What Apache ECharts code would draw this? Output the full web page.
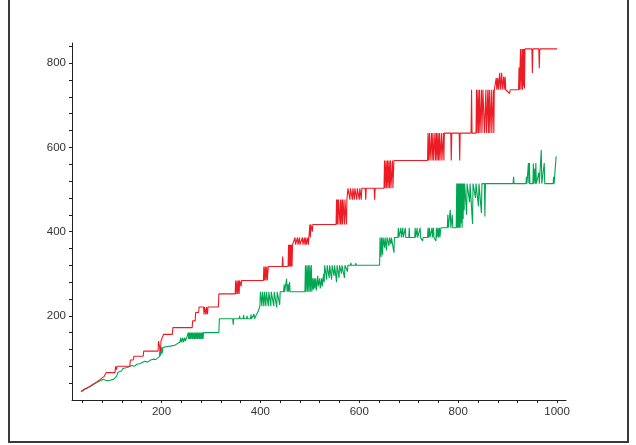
<!DOCTYPE html>
<html>
<head>
<meta charset="utf-8">
<script src="https://cdn.jsdelivr.net/npm/echarts@6/dist/echarts.min.js"></script>
<style>html,body{margin:0;padding:0;background:#fff;}#c{width:636px;height:445px;}</style>
</head>
<body>
<div id="c"></div>
<script>
// x tick marks / labels
const xTicks = [40,80,120,160,200,240,280,320,360,400,440,480,520,560,600,640,680,720,760,800,840,880,920,960,1000];
const xLabels = [200,400,600,800,1000];
const yTicks = [40,80,120,160,200,240,280,320,360,400,440,480,520,560,600,640,680,720,760,800,840];
const yLabels = [200,400,600,800];

// red series [x, y]
const redSeries = [
[37,20],[41,23],[45,26],[49,28],[53,31],[57,34],[61,37],[65,40],[69,43],[73,46],[76,49],[80,52],[84,56],[87,58],[88,65],[106,65],[107,80],[109,72],[110,80],[136,80],[137,95],[143,95],[144,104],[163,104],[164,116],[193,116],[194,140],[197,140],[198,116],[199,140],[203,140],[204,156],[222,156],[223,172],[262,172],[263,188],[268,188],[269,208],[275,208],[276,221],[285,221],[286,203],[287,221],[289,221],[290,203],[291,221],[292,221],[293,204],[294,221],[315,221],[316,252],[349,252],[350,284],[351,252],[353,284],[354,252],[356,284],[357,252],[358,284],[360,284],[361,270],[362,284],[406,284],[407,317],[408,284],[410,317],[411,284],[413,317],[414,284],[416,317],[444,317],[445,341],[446,317],[456,317],[457,369],[458,317],[459,369],[460,317],[461,369],[462,317],[463,369],[464,317],[465,369],[469,369],[470,386],[471,369],[474,369],[475,386],[476,369],[479,386],[480,369],[484,369],[485,386],[486,369],[489,386],[490,369],[492,386],[493,369],[496,386],[497,369],[499,369],[500,417],[501,386],[502,417],[504,417],[505,400],[506,417],[553,417],
[554,476],[555,417],[556,476],[557,417],[558,476],[560,476],[561,417],[562,476],[563,417],[565,476],[566,417],[567,476],[569,476],[570,417],[571,476],[573,476],[574,417],[575,476],[576,476],[577,503],
[580,503],[581,476],[582,503],[585,503],[586,476],[587,503],[590,476],[591,503],[594,503],[595,476],[596,503],[599,503],[600,476],[601,503],[604,476],[605,503],[612,503],[613,476],[614,503],[630,503],[631,476],[632,503],[650,503],
[651,569],[652,503],[654,569],[655,503],[657,569],[658,503],[660,569],[661,503],[663,569],[664,503],[667,569],[668,503],[670,569],[672,569],[738,569],
[739,634],[740,569],[742,634],[743,569],[746,634],[747,569],[749,634],[750,569],[753,634],[754,569],[756,634],[757,569],[759,634],[760,569],[762,634],[763,569],[766,634],[767,569],[769,569],[770,634],[771,569],[772,634],
[785,634],[786,569],[787,634],[802,634],[803,569],[804,634],[826,634],[827,737],[828,634],[836,634],[837,737],[838,634],[840,737],[841,634],[843,737],[844,634],[847,737],[848,634],[850,737],[852,737],[853,634],[856,737],[857,634],[860,737],[861,634],[863,737],[864,634],[867,737],[868,634],[871,737],[872,634],[873,737],
[876,737],[877,765],[878,737],[880,765],[881,737],[884,777],[885,737],[888,777],[889,737],[892,768],[893,737],[895,768],[896,737],[904,728],[905,737],[922,737],[923,790],[924,737],[926,834],[927,737],[929,834],[930,737],[931,834],[932,745],[933,834],[934,740],[935,834],[949,834],[950,777],[951,834],[963,834],[964,788],[965,834],[1000,834]
];

// green series [x, y]
const greenSeries = [
[38,20],[46,26],[54,31],[62,37],[70,42],[78,47],[83,49],[88,46],[96,47],[103,49],[106,50],[109,56],[112,66],[114,63],[116,70],[119,69],[122,75],[126,73],[130,77],[135,79],[140,82],[145,80],[150,85],[156,86],[160,89],[166,92],[172,90],[178,95],[183,97],[188,96],[192,99],[196,103],[197,125],[198,105],[200,125],[201,110],[203,125],[205,127],[212,127],[218,128],[227,130],[232,134],[237,137],[239,148],[240,137],[243,148],[244,137],[247,148],[248,140],[251,148],
[253,145],[254,160],[255,145],[256,160],[257,145],[258,160],[259,145],[261,160],[262,145],[263,160],[264,145],[266,160],[267,145],[268,160],[269,145],[271,160],[272,145],[273,160],[274,145],[276,160],[277,145],[278,160],[279,145],[281,160],[282,145],[283,160],[284,145],[285,160],[316,160],
[317,193],[344,193],[345,179],[346,193],[357,193],[358,200],[359,193],[365,193],[366,202],[367,193],[372,193],[373,200],[374,193],[380,193],[381,203],[382,193],[386,193],[387,204],[388,193],[391,193],[393,205],[395,203],[396,212],[397,208],[399,223],
[400,257],[402,257],[403,223],[404,257],[407,223],[408,257],[410,257],[411,223],[412,257],[416,223],[417,257],[420,257],[421,223],[422,257],[426,257],[427,223],[428,257],[432,257],[433,220],[434,257],[438,257],[439,226],[440,257],
[447,257],[448,275],[449,257],[452,257],[453,288],[454,257],[456,275],[457,257],[459,280],[460,257],[490,257],
[491,320],[492,257],[494,320],[495,257],[497,320],[498,257],[500,320],[501,257],[503,320],[504,257],[506,289],[507,262],[509,289],[510,265],[512,289],[513,260],[516,295],[517,270],[520,289],[521,265],[524,289],[525,270],[528,300],[529,280],[530,320],
[533,320],[534,286],[535,320],[538,320],[539,290],[540,320],[543,320],[544,286],[545,320],[548,320],[549,295],[550,320],[553,320],[554,280],[555,320],[558,320],[559,290],[560,320],[563,320],[564,300],[565,320],[569,320],[570,290],[571,320],[575,320],[576,305],[577,320],[582,320],[583,326],[584,320],[592,320],[593,325],[594,320],[641,320],
[642,386],[644,340],[645,386],[647,345],[648,386],[651,362],[652,386],[654,386],[655,355],[656,386],[660,366],[661,386],[664,370],[665,386],[669,386],[670,350],[671,386],[675,386],
[678,386],[679,409],[680,386],[683,386],[684,409],[685,386],[688,409],[689,386],[692,386],[693,409],[694,386],[700,386],[701,409],[702,386],[712,386],[713,409],[714,386],[717,409],[718,386],[722,386],[723,409],[724,386],[728,378],[729,386],[738,386],[739,409],[740,386],[742,409],[743,386],[746,386],[747,409],[748,386],[750,409],[751,386],[754,386],[755,378],[756,409],[757,386],[759,409],[760,386],[762,409],[763,386],[765,409],
[778,409],[779,440],[780,409],[783,409],[784,452],[785,409],[787,409],[788,440],[789,409],[796,409],
[797,514],[798,409],[799,514],[800,409],[801,514],[802,409],[803,514],[804,409],[805,514],[806,420],[807,514],[808,409],[809,514],[810,430],[811,514],[812,450],[813,514],
[816,514],[817,440],[818,514],[822,514],[823,470],[824,514],[828,514],[829,418],[830,514],[834,514],[835,480],[836,514],[840,514],[841,460],[842,514],[846,514],[847,444],[848,514],[853,514],[854,436],[855,514],
[911,514],[912,530],[913,514],[937,514],[938,530],[939,514],[941,514],[942,563],[943,514],[944,563],[945,514],[951,514],[952,562],[953,514],[955,550],[956,514],[957,563],[958,514],[962,514],[963,540],[964,514],[967,514],[968,594],[969,514],[973,514],[974,563],[975,514],[992,514],[993,530],[994,514],[997,514],[998,579]
];

const chart = echarts.init(document.getElementById('c'), null, {renderer: 'canvas'});
const axisCol = '#222';
const labelStyle = {color: '#333', fontSize: 11.5, fontFamily: 'Liberation Sans, Arial, sans-serif', formatter: function (v) { return String(v); }};
chart.setOption({
  animation: false,
  backgroundColor: '#fff',
  grid: {left: 72, right: 70, top: 43, bottom: 45, containLabel: false},
  xAxis: {
    type: 'value', min: 19, max: 1018,
    axisLine: {show: true, lineStyle: {color: axisCol, width: 1}},
    axisTick: {show: true, length: 3, customValues: xTicks, lineStyle: {color: axisCol}},
    axisLabel: Object.assign({customValues: xLabels, margin: 6}, labelStyle),
    splitLine: {show: false}
  },
  yAxis: {
    type: 'value', min: 0, max: 848,
    axisLine: {show: true, lineStyle: {color: axisCol, width: 1}},
    axisTick: {show: true, length: 3, customValues: yTicks, lineStyle: {color: axisCol}},
    axisLabel: Object.assign({customValues: yLabels, margin: 6}, labelStyle),
    splitLine: {show: false}
  },
  graphic: [{
    type: 'rect', silent: true,
    shape: {x: 9, y: -5, width: 619, height: 447},
    style: {fill: 'none', stroke: '#3a3a3a', lineWidth: 2}
  }],
  series: [
    {type: 'line', data: greenSeries, showSymbol: false, symbol: 'none', lineStyle: {color: '#00a651', width: 1.1}, z: 2},
    {type: 'line', data: redSeries, showSymbol: false, symbol: 'none', lineStyle: {color: '#ed1c24', width: 1.1}, z: 3}
  ]
});
</script>
</body>
</html>
